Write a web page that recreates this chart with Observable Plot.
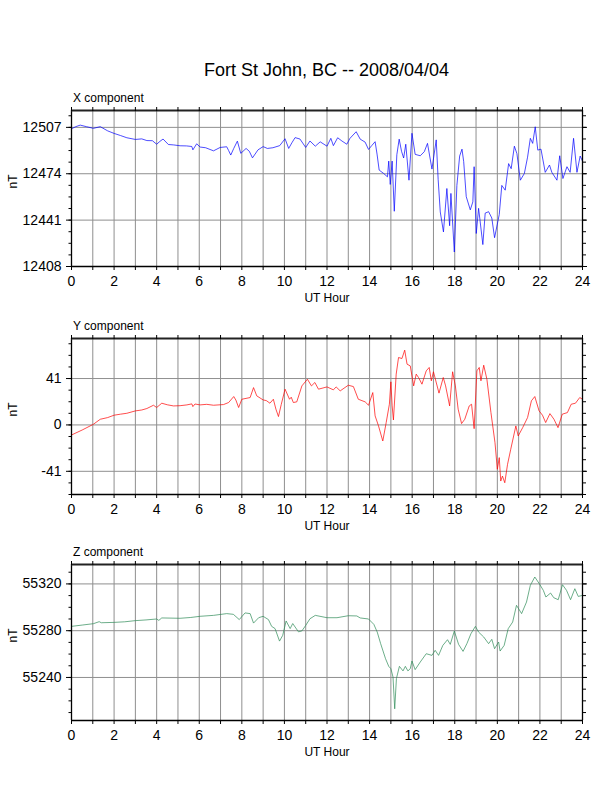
<!DOCTYPE html>
<html>
<head>
<meta charset="utf-8">
<script src="https://cdn.jsdelivr.net/npm/d3@7"></script>
<script src="https://cdn.jsdelivr.net/npm/@observablehq/plot@0.6"></script>
<style>
  html, body { margin: 0; padding: 0; background: white; }
  #page { position: relative; width: 612px; height: 792px; background: white; overflow: hidden; }
  #title { position: absolute; left: 71px; width: 511px; top: 60.5px; text-align: center;
           font-family: 'Liberation Sans', Arial, Helvetica, sans-serif; font-size: 18px; line-height: 18px; color: black; }
  .panel { position: absolute; left: 0; }
  .panel svg { display: block; overflow: visible; }
</style>
</head>
<body>
<div id="page">
  <div id="title">Fort St John, BC -- 2008/04/04</div>
  <div class="panel" id="px" style="top:80.3px"></div>
  <div class="panel" id="py" style="top:307.7px"></div>
  <div class="panel" id="pz" style="top:534.3px"></div>
</div>
<script>
// ---- axis ticks ----
const hourTicks = [0,1,2,3,4,5,6,7,8,9,10,11,12,13,14,15,16,17,18,19,20,21,22,23,24];
const hourLabels = [0,2,4,6,8,10,12,14,16,18,20,22,24];

const xTickLabels = [12408, 12441, 12474, 12507];
const yTickLabels = [-41, 0, 41];
const zTickLabels = [55240, 55280, 55320];

const xDomain = [12408, 12519];
const yDomain = [-61.5, 76.4];
const zDomain = [55203.2, 55336.6];

// ---- X component (nT) ----
const xHours = [0,0.2,0.41,0.7,1.03,1.35,1.7,2.0,2.3,2.6,3.0,3.3,3.54,3.8,4.0,4.15,4.3,4.55,4.8,5.1,5.4,5.65,5.7,5.88,6.04,6.3,6.67,6.98,7.29,7.38,7.48,7.62,7.79,7.95,8.2,8.35,8.5,8.76,9.0,9.2,9.46,9.78,10.03,10.2,10.35,10.5,10.73,11.0,11.2,11.45,11.68,12.0,12.18,12.3,12.5,12.7,12.93,13.08,13.37,13.56,13.79,13.95,14.1,14.26,14.35,14.45,14.66,14.84,14.9,14.97,15.06,15.16,15.28,15.39,15.5,15.6,15.7,15.85,15.99,16.14,16.38,16.57,16.72,16.93,17.13,17.22,17.32,17.47,17.63,17.76,17.82,17.98,18.1,18.23,18.34,18.42,18.54,18.73,18.85,18.91,19.01,19.12,19.32,19.43,19.59,19.74,19.87,20.09,20.21,20.37,20.53,20.65,20.8,20.92,21.08,21.27,21.42,21.55,21.66,21.78,21.9,22.05,22.25,22.45,22.56,22.8,22.93,23.08,23.27,23.42,23.58,23.74,23.89,24.0];
const xValues = [12506,12507.5,12508.6,12507.5,12506.3,12507.5,12504.5,12502.7,12501.2,12499.6,12498.4,12498.8,12497.6,12497.5,12495,12497,12498.7,12494.8,12494.5,12493.9,12493.8,12493.4,12491,12495.3,12493,12492.5,12490.3,12492.7,12493.2,12490.5,12487.3,12492,12497.2,12488.5,12492,12490,12485.3,12491,12493.3,12492,12492.5,12494,12498.9,12492,12496,12499.7,12498.7,12492.7,12497.3,12493.6,12496.7,12493.6,12499.2,12494,12499.6,12497.3,12495,12499.2,12503.9,12498.6,12496.5,12491.3,12494,12496.8,12488,12476.6,12474.2,12471.8,12483,12466.4,12483,12447.3,12487.5,12498.6,12490,12485.2,12495,12469.4,12502.8,12487.8,12486.8,12489.7,12495.6,12477.3,12498.1,12470,12446.8,12432.6,12463.5,12437,12460,12418.3,12465.7,12486.6,12491.5,12482.6,12457.7,12448.3,12454,12479,12431.5,12449.4,12423.6,12446,12447,12442.5,12428.5,12445,12465.7,12462.3,12481.2,12477.6,12493.6,12488.3,12469.4,12474.2,12485.8,12499.2,12495.6,12507.4,12490.8,12491.5,12475,12480.2,12475,12469.4,12486.8,12470.6,12479,12475,12499.2,12475,12486.6,12483];

// ---- Y component (nT) ----
const yHours = [0,0.5,1.03,1.35,1.7,2.0,2.3,2.6,3.0,3.3,3.54,3.85,4.0,4.24,4.5,4.79,5.1,5.42,5.65,5.7,5.8,6.04,6.35,6.67,7.14,7.38,7.62,7.72,7.85,8.0,8.39,8.55,8.7,9.0,9.15,9.32,9.48,9.6,9.72,9.85,10.03,10.24,10.32,10.42,10.58,10.82,11.08,11.27,11.43,11.6,12.0,12.3,12.43,12.62,13.0,13.24,13.47,13.79,13.95,14.15,14.26,14.42,14.62,14.78,14.93,15.0,15.06,15.12,15.25,15.36,15.52,15.65,15.76,15.91,16.07,16.19,16.3,16.46,16.66,16.8,16.9,17.0,17.26,17.46,17.57,17.76,17.9,18.03,18.16,18.32,18.47,18.68,18.79,18.91,19.04,19.15,19.23,19.36,19.51,19.7,19.89,20.0,20.09,20.16,20.24,20.35,20.48,20.63,20.87,20.98,21.19,21.42,21.6,21.76,21.96,22.12,22.27,22.47,22.66,22.85,23.05,23.29,23.47,23.67,23.87,24.0];
const yValues = [-8.9,-4.5,0.6,5,6.5,8.6,9.5,10.3,12.4,13.2,14.5,17.4,15.4,19.2,17.8,16.8,17,17.7,18.6,16.2,18.5,17.7,18.2,17.4,18,19.8,25.1,22,15.4,22.7,24.2,33,25.7,22.1,21.5,19.2,22.7,14,7.4,18,31.6,22.7,24.5,19.8,20.4,34.5,40.4,34.5,37.5,31.6,33.6,31,33.6,30.1,35.1,33.9,22.7,20.4,17.4,28.6,8,-0.9,-14.2,2.1,18.3,38.1,16.8,4.4,44.9,59.6,58.7,66.1,53.7,52.2,34.5,44.9,41.9,36,47.8,50.8,39,47,28.1,41.9,34.5,16.8,47,34.5,13.9,1.2,5,16.8,18.3,-3.3,47.8,50.8,39,52.8,40.4,10.9,-15.7,-39.2,-28.9,-49.6,-45.2,-51.1,-34.8,-21.5,-0.9,-9.8,-2.4,6.5,21.3,25.1,12.4,8.6,2.1,10,5,-2.4,9.5,10.9,18.3,19.2,24.2,22.7];

// ---- Z component (nT) ----
const zHours = [0,0.5,1.03,1.3,1.4,2.0,2.5,3.0,3.5,4.0,4.1,4.24,5.1,5.6,6.04,6.67,7.29,7.6,7.88,8.15,8.39,8.55,8.79,9.0,9.25,9.4,9.56,9.77,9.92,10.08,10.27,10.39,10.66,10.82,11.0,11.2,11.45,12.0,12.47,13.0,13.4,13.56,13.95,14.2,14.36,14.52,14.75,14.9,15.0,15.1,15.18,15.26,15.4,15.57,15.68,15.8,15.91,15.99,16.14,16.38,16.66,16.93,17.08,17.24,17.44,17.66,17.79,17.98,18.18,18.39,18.57,18.76,18.97,19.12,19.36,19.59,19.74,19.87,20.06,20.13,20.32,20.51,20.72,20.9,21.14,21.37,21.55,21.76,21.97,22.16,22.28,22.5,22.65,22.86,23.06,23.25,23.44,23.64,23.8,24];
const zValues = [55283.7,55284.8,55286,55287.7,55286.8,55287.1,55287.6,55288.6,55289.2,55290,55288.8,55290.9,55290.6,55291.3,55292.3,55293.1,55294.6,55294,55289.5,55295.2,55294.6,55286.5,55291.1,55292.3,55289.5,55283.7,55281.8,55271.1,55276,55288.3,55281.8,55286.1,55279,55279.8,55284.5,55290.2,55293.1,55291.1,55291.1,55292.8,55292.6,55290.9,55290,55285.4,55278.8,55268.9,55256,55249.5,55247.5,55240.4,55213.2,55239,55249.5,55245.6,55249.5,55245.6,55247.5,55254.1,55246.7,55253.2,55260.3,55258.9,55263.2,55258.9,55267.4,55272.3,55268.3,55279.7,55268.3,55262.3,55268.9,55277.4,55283.7,55278.8,55274.6,55268.9,55272.6,55264.6,55270.3,55262.6,55267.4,55281.7,55287.4,55301.7,55294.6,55304.5,55318.8,55325.9,55320.2,55314.5,55308.8,55312.2,55308.2,55306.5,55319.3,55314.5,55306.5,55315.9,55309.3,55310.2];

// minor tick steps (quarter of annotation interval)
const xMinor = d3.range(12408, 12519, 8.25);
const yMinor = d3.range(-61.5, 76.4, 10.25);
const zMinor = d3.range(55210, 55337, 10);

const font = "'Liberation Sans', Arial, Helvetica, sans-serif";
const gridColor = "#8f8f8f";
const fmt = d => String(d);
const blank = () => "";

function panel({hours, values, domain, ticks, minor, color, name}) {
  const data = hours.map((h, i) => ({h, v: values[i]}));
  return Plot.plot({
    width: 612, height: 231,
    marginLeft: 71, marginRight: 30, marginTop: 30, marginBottom: 45,
    style: {fontFamily: font, fontSize: "14px", background: "transparent", overflow: "visible", color: "black"},
    x: {domain: [0, 24]},
    y: {domain},
    marks: [
      Plot.gridX(hourTicks, {stroke: gridColor, strokeOpacity: 1, strokeWidth: 1}),
      Plot.gridY(ticks, {stroke: gridColor, strokeOpacity: 1, strokeWidth: 1}),
      Plot.line(data, {x: "h", y: "v", stroke: color, strokeWidth: 0.7, strokeLinejoin: "round"}),
      Plot.ruleX([0, 24], {stroke: "black", strokeWidth: 1.3}),
      Plot.ruleY([domain[0]], {stroke: "black", strokeWidth: 1.3}),
      Plot.ruleY([domain[1]], {stroke: "#222", strokeWidth: 2}),
      Plot.axisX(hourLabels, {anchor: "bottom", tickSize: 0, tickPadding: 10, tickFormat: fmt, fontSize: 14, label: null}),
      Plot.axisX(hourTicks, {anchor: "bottom", tickSize: 4, tickFormat: blank, label: null}),
      Plot.axisX(hourTicks, {anchor: "top", tickSize: 4, tickFormat: blank, label: null}),
      Plot.axisY(ticks, {anchor: "left", tickSize: 5, tickPadding: 5, tickFormat: fmt, fontSize: 14, label: null}),
      Plot.axisY(minor, {anchor: "left", tickSize: 2.5, tickFormat: blank, label: null}),
      Plot.axisY(ticks, {anchor: "right", tickSize: 4, tickFormat: blank, label: null}),
      Plot.axisY(minor, {anchor: "right", tickSize: 3, tickFormat: blank, label: null}),
      Plot.text([name], {frameAnchor: "top-left", dx: 1.5, dy: -9, textAnchor: "start", lineAnchor: "bottom", fontSize: 12}),
      Plot.text(["UT Hour"], {frameAnchor: "bottom", dy: 35.5, lineAnchor: "bottom", fontSize: 12}),
      Plot.text(["nT"], {frameAnchor: "left", dx: -58, rotate: -90, fontSize: 12})
    ]
  });
}

document.getElementById("px").append(panel({hours: xHours, values: xValues, domain: xDomain, ticks: xTickLabels, minor: xMinor, color: "#0000ff", name: "X component"}));
document.getElementById("py").append(panel({hours: yHours, values: yValues, domain: yDomain, ticks: yTickLabels, minor: yMinor, color: "#ff0000", name: "Y component"}));
document.getElementById("pz").append(panel({hours: zHours, values: zValues, domain: zDomain, ticks: zTickLabels, minor: zMinor, color: "#2e8b57", name: "Z component"}));
</script>
</body>
</html>
